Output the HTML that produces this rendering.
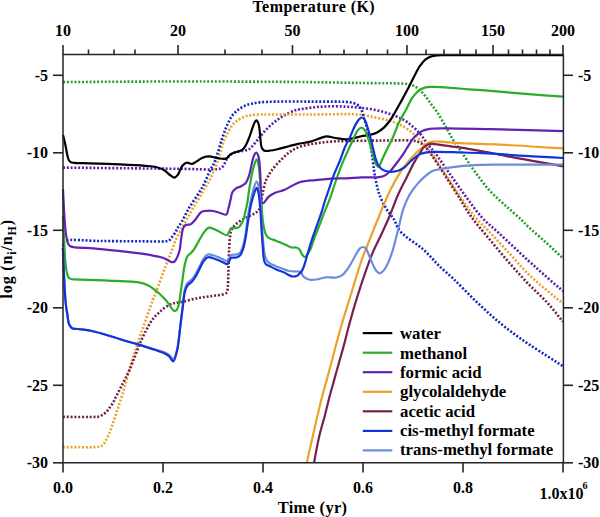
<!DOCTYPE html>
<html><head><meta charset="utf-8"><style>
html,body{margin:0;padding:0;background:#fff;width:600px;height:517px;overflow:hidden;}
svg{display:block;}
text{font-family:"Liberation Serif",serif;}
</style></head><body>
<svg width="600" height="517" viewBox="0 0 600 517"><rect width="600" height="517" fill="#fff"/><path d="M63.00,82.10 C82.00,81.97 99.39,81.80 120.00,81.70 C144.41,81.58 171.85,81.46 200.00,81.50 C231.48,81.54 270.90,81.68 300.00,82.00 C322.54,82.24 341.33,82.68 360.00,83.00 C376.35,83.28 399.03,83.13 406.00,83.80 C408.07,84.00 408.68,84.14 410.00,84.50 C411.35,84.87 412.59,85.26 414.00,86.00 C415.81,86.94 417.96,88.39 419.80,90.00 C421.84,91.79 423.73,94.08 425.60,96.40 C427.61,98.89 429.42,101.78 431.40,104.50 C433.45,107.31 435.58,109.78 437.70,113.00 C440.27,116.90 442.92,121.91 445.50,126.40 C448.09,130.91 450.52,135.74 453.20,140.00 C455.70,143.98 458.09,146.95 461.00,151.20 C464.80,156.75 469.32,164.05 474.00,170.50 C478.95,177.32 484.42,184.89 490.00,191.00 C495.12,196.61 500.73,201.16 506.00,206.00 C511.06,210.65 516.98,215.69 521.00,219.50 C523.81,222.17 525.03,223.70 528.00,226.50 C532.81,231.04 541.32,238.24 547.40,243.80 C552.92,248.84 557.80,253.53 563.00,258.40" fill="none" stroke="#26a02c" stroke-width="2.6" stroke-linejoin="round" stroke-linecap="butt" stroke-dasharray="2 1.8"/><path d="M63.00,167.60 C82.00,167.80 100.76,168.00 120.00,168.20 C139.74,168.40 162.35,168.62 180.00,168.80 C193.93,168.94 211.65,170.00 217.40,169.20 C219.17,168.95 219.78,168.81 220.80,168.20 C221.90,167.55 222.91,166.41 223.70,165.30 C224.52,164.16 224.93,162.64 225.60,161.40 C226.24,160.21 226.86,159.06 227.60,158.00 C228.33,156.96 229.09,155.91 230.00,155.10 C230.87,154.32 231.82,153.71 232.90,153.20 C234.07,152.65 235.37,152.35 236.80,152.00 C238.49,151.59 240.51,151.39 242.40,151.00 C244.37,150.59 246.74,150.44 248.40,149.60 C249.86,148.86 250.71,147.80 252.00,146.50 C253.79,144.69 255.81,142.00 257.90,139.50 C260.30,136.62 262.80,133.14 265.60,130.20 C268.46,127.20 271.70,124.20 274.90,121.70 C277.91,119.34 280.92,117.37 284.20,115.50 C287.60,113.56 292.03,111.29 295.00,110.30 C296.94,109.65 297.87,109.66 300.00,109.30 C303.74,108.67 310.32,107.70 315.50,107.20 C320.66,106.70 325.84,106.38 331.00,106.30 C336.14,106.22 341.55,106.46 346.40,106.70 C350.76,106.91 354.37,107.12 358.80,107.60 C363.96,108.16 370.07,108.86 375.50,110.00 C380.80,111.11 386.19,112.59 391.00,114.30 C395.40,115.87 399.59,117.58 403.30,119.70 C406.73,121.66 409.73,123.96 412.60,126.40 C415.42,128.80 418.22,131.67 420.40,134.20 C422.23,136.32 423.45,138.34 425.00,140.40 C426.55,142.47 428.02,144.50 429.70,146.60 C431.51,148.86 433.18,150.48 435.50,153.50 C439.51,158.72 445.83,168.27 451.00,175.60 C456.13,182.87 461.19,190.26 466.40,197.30 C471.49,204.18 476.33,211.31 481.90,217.40 C487.23,223.23 492.56,227.22 499.00,233.20 C507.41,241.01 519.26,252.30 528.00,260.30 C535.08,266.78 541.26,272.29 547.40,277.70 C552.86,282.51 557.80,286.70 563.00,291.20" fill="none" stroke="#5a1eaa" stroke-width="2.6" stroke-linejoin="round" stroke-linecap="butt" stroke-dasharray="2 1.8"/><path d="M63.00,447.10 C73.83,447.10 89.98,447.32 95.50,447.10 C97.39,447.03 98.16,447.09 99.30,446.80 C100.30,446.55 101.18,446.20 102.00,445.60 C102.90,444.94 103.68,443.92 104.40,442.90 C105.19,441.78 105.80,440.44 106.50,439.10 C107.27,437.63 108.06,436.06 108.80,434.40 C109.60,432.58 110.36,430.63 111.10,428.60 C111.90,426.41 112.64,424.01 113.40,421.70 C114.17,419.38 114.91,417.02 115.70,414.70 C116.48,412.39 117.32,410.11 118.10,407.80 C118.89,405.48 119.54,403.51 120.40,400.80 C121.59,397.08 122.99,392.66 124.50,387.50 C126.59,380.38 128.94,370.74 131.60,362.00 C134.46,352.61 137.80,342.96 141.20,333.00 C144.84,322.34 149.97,307.53 152.80,300.00 C154.29,296.04 154.97,294.72 156.40,291.00 C158.70,285.01 162.50,274.14 165.10,267.40 C167.07,262.29 168.68,258.64 170.50,254.00 C172.45,249.03 174.35,243.02 176.40,238.50 C178.08,234.80 179.80,232.01 181.60,228.70 C183.46,225.28 185.47,221.78 187.40,218.30 C189.34,214.81 191.23,211.19 193.20,207.80 C195.10,204.53 197.09,201.54 199.00,198.30 C200.96,194.98 203.02,191.16 204.80,188.10 C206.27,185.57 207.62,183.55 208.90,181.20 C210.18,178.85 211.32,176.55 212.50,174.00 C213.80,171.19 215.09,168.30 216.30,165.00 C217.71,161.14 218.94,156.44 220.30,152.20 C221.64,148.00 222.89,143.39 224.40,139.70 C225.67,136.60 227.08,133.98 228.50,131.40 C229.79,129.04 230.89,126.71 232.50,124.80 C234.05,122.96 235.90,121.44 237.90,120.10 C239.96,118.72 242.38,117.54 244.70,116.70 C246.92,115.90 249.09,115.47 251.50,115.10 C254.16,114.70 257.15,114.60 260.00,114.50 C262.88,114.40 264.72,114.50 268.70,114.50 C277.36,114.50 295.66,114.49 310.00,114.50 C325.59,114.52 346.83,113.56 358.80,114.60 C365.86,115.22 370.05,116.38 375.50,117.50 C380.78,118.59 386.20,119.60 391.00,121.20 C395.40,122.66 399.44,124.29 403.30,126.50 C407.18,128.72 410.97,131.76 414.20,134.50 C417.08,136.94 419.67,139.52 421.90,142.00 C423.86,144.18 425.24,146.41 427.00,148.50 C428.74,150.57 430.40,151.91 432.40,154.50 C435.52,158.55 439.26,165.04 443.20,171.00 C447.89,178.09 453.48,186.62 458.70,194.20 C463.81,201.62 468.82,209.49 474.20,216.00 C479.06,221.88 483.97,226.15 489.30,231.80 C495.38,238.24 502.26,245.61 508.70,252.60 C515.16,259.61 521.37,267.29 528.00,273.80 C534.29,279.97 541.24,285.60 547.40,290.80 C552.84,295.39 557.80,299.27 563.00,303.50" fill="none" stroke="#e8a22c" stroke-width="2.6" stroke-linejoin="round" stroke-linecap="butt" stroke-dasharray="2 1.8"/><path d="M63.00,416.90 C73.67,416.90 89.43,417.11 95.00,416.90 C96.97,416.83 97.75,416.94 99.00,416.60 C100.21,416.26 101.29,415.58 102.40,414.90 C103.59,414.17 104.80,413.36 105.90,412.30 C107.15,411.11 108.27,409.50 109.40,408.00 C110.57,406.44 111.76,404.83 112.80,403.10 C113.87,401.31 114.59,399.58 115.70,397.40 C117.20,394.45 119.03,390.92 121.00,387.00 C123.54,381.95 126.65,376.20 129.60,369.60 C133.34,361.22 137.30,349.14 141.20,340.60 C144.41,333.57 148.18,326.07 150.90,321.80 C152.43,319.40 153.58,318.09 155.00,316.50 C156.29,315.05 157.52,313.95 159.00,312.60 C160.73,311.03 162.80,309.11 164.80,307.70 C166.68,306.37 168.70,305.11 170.60,304.30 C172.26,303.59 173.65,303.31 175.50,302.90 C177.83,302.38 180.50,302.22 183.50,301.60 C187.45,300.79 192.55,299.10 197.10,298.20 C201.59,297.31 206.10,296.90 210.60,296.20 C215.10,295.50 221.37,294.95 224.10,294.00 C225.40,293.55 226.18,293.37 226.80,292.50 C227.64,291.33 227.56,289.20 227.80,287.00 C228.16,283.78 228.16,279.22 228.30,275.00 C228.46,270.28 228.54,264.82 228.70,260.00 C228.85,255.51 228.96,251.05 229.20,247.00 C229.41,243.45 229.61,239.97 230.00,237.00 C230.32,234.59 230.55,232.21 231.20,230.50 C231.67,229.26 232.24,228.51 233.00,227.50 C233.91,226.29 235.01,225.01 236.40,223.80 C238.11,222.30 240.55,220.67 242.70,219.40 C244.75,218.19 246.93,217.34 249.00,216.30 C251.03,215.28 253.28,214.35 255.00,213.20 C256.47,212.22 257.89,211.41 258.80,210.00 C259.82,208.43 259.95,206.27 260.50,204.00 C261.20,201.10 261.71,197.54 262.50,194.00 C263.40,189.94 264.52,184.16 265.70,181.00 C266.42,179.06 267.14,178.05 268.00,176.50 C268.95,174.79 269.86,173.11 271.20,171.20 C272.96,168.71 275.59,165.54 277.90,163.00 C280.10,160.59 282.38,158.37 284.70,156.30 C286.92,154.32 288.92,152.41 291.50,150.80 C294.35,149.02 297.58,147.49 301.20,146.30 C305.43,144.91 310.62,144.18 315.50,143.40 C320.55,142.60 325.83,142.00 331.00,141.60 C336.13,141.20 340.28,141.16 346.40,141.00 C355.44,140.77 369.02,140.67 380.00,140.60 C390.57,140.54 404.23,139.98 411.10,140.60 C414.55,140.91 416.48,140.99 418.80,142.00 C421.11,143.00 423.08,144.74 425.00,146.60 C427.11,148.64 428.58,150.85 430.80,153.90 C434.24,158.62 438.87,165.86 443.20,172.50 C448.12,180.04 453.83,189.12 458.70,196.80 C463.07,203.70 466.35,209.86 471.10,216.50 C476.40,223.91 483.11,231.47 489.30,239.00 C495.63,246.70 502.17,254.69 508.70,262.20 C515.07,269.52 521.47,276.66 528.00,283.50 C534.37,290.18 541.44,296.24 547.40,302.80 C553.05,309.02 557.80,315.47 563.00,321.80" fill="none" stroke="#6e2048" stroke-width="2.6" stroke-linejoin="round" stroke-linecap="butt" stroke-dasharray="2 1.8"/><path d="M63.00,250.00 C63.20,247.67 63.05,244.63 63.60,243.00 C63.94,242.01 63.95,241.37 65.00,240.80 C68.84,238.70 87.94,240.92 100.00,241.00 C112.89,241.09 128.10,241.26 140.00,241.30 C149.60,241.34 161.62,241.87 166.00,241.30 C167.51,241.10 168.05,241.09 169.00,240.50 C170.25,239.72 171.39,237.94 172.50,236.50 C173.67,234.98 174.85,233.18 175.80,231.60 C176.65,230.19 177.14,228.95 178.00,227.50 C179.02,225.78 180.26,224.27 181.60,222.00 C183.62,218.58 185.77,213.68 188.60,208.80 C192.31,202.42 198.43,194.25 202.30,187.20 C205.76,180.88 208.89,172.53 211.00,168.60 C212.02,166.70 212.65,166.26 213.50,164.50 C214.83,161.73 216.29,157.23 217.60,153.30 C219.03,149.01 220.35,143.81 221.70,139.70 C222.84,136.23 223.92,133.23 225.10,130.20 C226.20,127.38 227.23,124.64 228.50,122.10 C229.71,119.69 230.92,117.35 232.50,115.30 C234.06,113.29 235.89,111.47 237.90,109.90 C239.95,108.30 242.37,106.83 244.70,105.80 C246.91,104.83 249.12,104.35 251.50,103.80 C254.07,103.20 256.40,102.75 259.60,102.40 C264.18,101.90 269.84,101.76 276.40,101.60 C285.68,101.38 299.12,101.58 310.00,101.60 C320.28,101.62 333.49,101.55 340.00,101.70 C343.15,101.77 344.80,101.80 347.00,102.00 C348.98,102.18 350.84,102.33 352.60,102.80 C354.26,103.25 355.96,103.80 357.30,104.70 C358.57,105.56 359.63,106.66 360.50,108.00 C361.49,109.52 362.05,111.57 362.70,113.50 C363.39,115.56 363.80,117.59 364.50,120.00 C365.38,123.04 366.68,126.60 367.60,130.30 C368.65,134.50 369.50,139.37 370.30,143.90 C371.10,148.40 371.77,152.97 372.40,157.40 C373.00,161.67 373.41,166.05 374.00,170.00 C374.52,173.53 375.04,176.68 375.70,180.00 C376.37,183.34 377.18,187.05 378.00,190.00 C378.66,192.39 379.10,193.96 380.10,196.40 C381.54,199.90 383.94,204.89 386.30,208.80 C388.62,212.65 391.97,216.07 394.10,219.70 C396.01,222.97 396.64,226.61 398.70,229.50 C400.75,232.38 403.51,234.58 406.40,237.00 C409.63,239.70 414.01,242.30 417.30,244.80 C420.12,246.94 422.52,248.71 425.00,251.00 C427.62,253.42 430.18,256.44 432.60,259.00 C434.83,261.36 436.38,263.23 439.00,265.80 C442.76,269.48 448.02,273.69 453.30,278.70 C460.22,285.26 468.81,294.53 476.70,302.00 C484.39,309.28 492.08,316.48 500.00,323.00 C507.63,329.28 515.43,335.00 523.30,340.50 C531.00,345.88 539.60,351.11 546.70,355.70 C552.62,359.53 557.57,362.70 563.00,366.20" fill="none" stroke="#1028c0" stroke-width="2.6" stroke-linejoin="round" stroke-linecap="butt" stroke-dasharray="2 1.8"/><path d="M63.00,135.00 C63.50,137.00 64.02,138.92 64.50,141.00 C65.02,143.24 65.52,145.59 66.00,148.00 C66.52,150.57 66.91,153.73 67.50,156.00 C67.95,157.73 68.28,159.40 69.00,160.50 C69.54,161.33 70.20,161.91 71.00,162.30 C71.85,162.71 72.60,162.66 74.00,162.80 C77.22,163.12 83.84,163.09 90.00,163.30 C98.44,163.59 110.46,163.96 120.00,164.40 C128.71,164.80 138.36,165.25 145.00,165.80 C149.41,166.16 152.67,166.21 156.00,167.00 C158.93,167.70 161.63,168.62 164.00,170.00 C166.27,171.32 168.07,173.67 170.00,175.00 C171.58,176.09 173.25,177.72 174.60,177.60 C175.78,177.49 176.69,176.27 177.70,175.00 C179.32,172.97 180.54,167.93 182.40,165.80 C183.77,164.23 185.39,162.86 187.00,162.60 C188.50,162.36 190.17,164.15 191.70,164.00 C193.27,163.85 194.67,162.53 196.30,161.60 C198.23,160.49 200.27,158.57 202.50,157.70 C204.73,156.83 207.55,156.35 209.70,156.40 C211.47,156.44 212.90,157.17 214.50,157.50 C216.10,157.83 217.69,158.18 219.30,158.40 C220.92,158.62 222.79,158.93 224.20,158.80 C225.30,158.70 226.30,158.51 227.10,158.00 C227.89,157.50 228.33,156.45 229.00,155.80 C229.63,155.19 230.25,154.69 231.00,154.20 C231.83,153.65 232.71,153.14 233.80,152.70 C235.18,152.14 237.18,151.85 238.70,151.30 C240.09,150.80 241.49,150.47 242.60,149.60 C243.78,148.68 244.61,147.28 245.50,145.80 C246.57,144.01 247.54,141.54 248.40,139.50 C249.19,137.62 249.83,135.90 250.50,134.00 C251.20,132.00 251.80,129.74 252.50,127.80 C253.14,126.03 253.74,124.14 254.50,122.80 C255.08,121.78 255.77,120.26 256.40,120.30 C257.14,120.34 258.02,122.33 258.60,124.00 C259.58,126.85 259.67,132.38 260.20,136.40 C260.70,140.20 260.68,145.05 261.70,147.50 C262.29,148.92 263.04,149.93 264.00,150.50 C264.87,151.02 265.79,151.00 267.10,151.00 C269.37,151.00 273.10,150.20 276.40,149.50 C280.26,148.68 284.96,147.21 288.80,146.20 C292.12,145.33 294.84,144.50 298.10,143.80 C301.64,143.04 305.77,142.78 309.30,141.90 C312.58,141.08 315.64,139.75 318.60,138.80 C321.28,137.93 323.59,136.58 326.30,136.40 C329.23,136.21 332.38,137.53 335.60,138.00 C339.06,138.51 343.10,139.37 346.40,139.30 C349.22,139.24 351.62,138.53 354.20,138.00 C356.79,137.47 359.35,136.60 361.90,136.10 C364.38,135.61 366.83,135.59 369.30,135.00 C371.89,134.38 374.67,133.63 377.10,132.40 C379.54,131.17 381.75,129.57 383.90,127.60 C386.32,125.38 388.68,122.36 390.70,119.50 C392.71,116.66 394.29,113.46 396.00,110.50 C397.65,107.63 399.29,104.72 400.80,102.00 C402.18,99.51 403.44,97.14 404.70,94.80 C405.90,92.58 406.91,90.79 408.20,88.30 C409.91,85.00 412.03,80.45 414.00,76.70 C415.90,73.09 417.71,69.25 419.80,66.20 C421.61,63.56 423.48,60.97 425.60,59.30 C427.40,57.88 429.42,57.05 431.40,56.40 C433.29,55.78 435.12,55.61 437.20,55.40 C439.60,55.16 441.22,55.25 445.00,55.20 C455.03,55.07 481.04,55.20 500.00,55.20 C520.29,55.20 542.00,55.20 563.00,55.20" fill="none" stroke="#000000" stroke-width="2.2" stroke-linejoin="round" stroke-linecap="butt"/><path d="M63.00,216.00 C63.33,223.33 63.61,230.51 64.00,238.00 C64.41,245.83 64.74,255.55 65.40,262.00 C65.85,266.38 66.30,270.17 67.00,273.00 C67.46,274.86 67.78,276.48 68.60,277.50 C69.23,278.28 70.05,278.68 71.00,279.00 C72.13,279.38 73.02,279.27 75.00,279.40 C80.68,279.79 97.09,280.04 108.00,280.60 C118.75,281.15 133.12,281.42 140.00,282.70 C143.38,283.33 145.05,283.92 147.40,285.00 C149.79,286.10 152.07,287.74 154.20,289.30 C156.27,290.81 158.19,292.54 160.00,294.20 C161.71,295.77 163.32,297.36 164.80,299.00 C166.21,300.56 167.53,302.21 168.70,303.80 C169.78,305.27 170.69,307.03 171.60,308.20 C172.27,309.06 172.85,309.82 173.50,310.30 C173.99,310.66 174.50,311.01 175.00,311.00 C175.50,310.99 176.08,310.60 176.50,310.20 C176.97,309.74 177.25,309.15 177.60,308.30 C178.21,306.84 178.85,304.24 179.30,302.00 C179.81,299.51 179.98,296.93 180.40,294.00 C180.92,290.40 181.54,286.40 182.20,282.00 C183.01,276.61 183.75,268.76 184.90,264.00 C185.68,260.76 186.42,257.82 187.60,256.00 C188.38,254.80 189.41,254.36 190.30,253.50 C191.21,252.63 192.08,251.97 193.00,250.80 C194.32,249.12 195.58,246.64 197.10,244.10 C199.08,240.79 201.54,235.54 203.80,232.60 C205.45,230.46 206.72,228.06 208.80,227.60 C211.19,227.07 214.65,229.57 217.60,230.80 C220.71,232.09 225.16,235.76 227.00,235.20 C228.10,234.86 228.22,233.12 228.90,232.00 C229.67,230.74 230.26,228.59 231.40,228.00 C232.42,227.47 233.95,228.33 235.20,228.20 C236.45,228.07 237.79,228.01 238.90,227.20 C240.40,226.10 241.68,223.55 242.70,221.30 C243.86,218.73 244.44,215.50 245.20,212.50 C245.98,209.41 246.67,206.50 247.30,203.00 C248.07,198.73 248.44,193.86 249.30,188.70 C250.32,182.56 251.71,173.98 253.20,168.60 C254.24,164.86 255.64,159.28 256.60,159.30 C257.38,159.31 258.03,162.60 258.60,165.50 C259.85,171.83 260.24,186.58 261.00,196.40 C261.70,205.33 261.98,215.11 263.00,222.00 C263.70,226.75 264.28,231.11 265.60,233.90 C266.45,235.68 267.25,236.72 268.70,237.80 C270.57,239.20 273.72,239.80 276.40,240.90 C279.36,242.12 282.97,243.59 285.70,244.80 C287.87,245.76 289.62,247.08 291.50,247.50 C293.11,247.86 294.84,247.13 296.20,247.50 C297.39,247.82 298.38,248.36 299.30,249.30 C300.53,250.54 301.31,253.40 302.40,254.80 C303.20,255.84 304.11,257.22 304.90,257.20 C305.64,257.18 306.28,255.93 307.00,255.00 C308.00,253.71 309.09,252.10 310.10,250.00 C311.61,246.87 312.95,241.81 314.50,237.70 C316.08,233.51 317.88,229.30 319.50,225.10 C321.11,220.93 322.54,216.80 324.20,212.60 C325.91,208.27 327.80,204.30 329.60,199.50 C331.74,193.79 333.88,186.54 336.00,180.50 C337.95,174.95 339.63,169.97 341.80,164.60 C344.10,158.92 347.09,152.64 349.50,147.30 C351.58,142.68 353.76,137.54 355.40,134.40 C356.38,132.52 356.92,131.16 358.00,130.00 C358.99,128.94 360.36,127.56 361.50,127.60 C362.66,127.64 363.88,128.90 364.90,130.30 C366.57,132.59 367.71,137.35 369.00,141.20 C370.42,145.44 371.69,150.51 373.00,154.70 C374.15,158.37 375.11,163.02 376.40,165.00 C377.06,166.01 377.78,167.04 378.50,166.90 C379.78,166.66 381.08,161.73 382.50,158.80 C384.18,155.35 386.24,150.87 387.90,147.50 C389.26,144.74 390.48,142.64 391.70,140.00 C393.02,137.16 394.27,133.98 395.50,131.00 C396.70,128.08 397.51,125.40 399.00,122.30 C400.82,118.50 403.73,114.03 405.90,110.00 C407.95,106.17 409.72,101.77 411.70,98.70 C413.21,96.36 414.79,94.44 416.30,92.90 C417.48,91.69 418.42,90.86 419.80,90.00 C421.43,88.98 423.62,87.91 425.60,87.40 C427.49,86.91 429.06,86.96 431.40,86.90 C434.98,86.81 439.84,87.10 445.00,87.40 C451.81,87.80 461.01,88.72 468.70,89.30 C475.99,89.85 483.02,90.22 490.00,90.80 C496.78,91.36 501.74,92.00 510.00,92.70 C523.44,93.85 545.33,95.37 563.00,96.70" fill="none" stroke="#2aae2a" stroke-width="2.2" stroke-linejoin="round" stroke-linecap="butt"/><path d="M63.00,189.30 C63.40,197.20 63.71,205.44 64.20,213.00 C64.65,219.95 65.18,228.05 65.80,233.00 C66.17,235.94 66.51,238.01 67.00,240.00 C67.38,241.53 67.71,242.94 68.30,244.00 C68.77,244.84 69.26,245.48 70.00,246.00 C70.86,246.60 71.70,246.87 73.30,247.20 C77.12,247.98 86.27,247.76 93.30,248.30 C101.18,248.91 109.97,249.88 118.30,250.80 C126.64,251.72 135.82,252.64 143.30,253.80 C149.44,254.76 156.06,255.97 160.00,257.00 C162.21,257.58 163.54,258.03 165.10,258.70 C166.52,259.31 167.79,260.18 169.00,260.80 C170.03,261.33 170.94,262.11 171.90,262.20 C172.77,262.28 173.75,262.05 174.50,261.50 C175.44,260.82 176.08,259.42 176.80,258.00 C177.78,256.07 178.82,253.48 179.50,250.80 C180.31,247.60 180.47,243.53 181.00,240.00 C181.51,236.60 181.85,232.51 182.60,230.00 C183.08,228.39 183.57,227.07 184.30,226.20 C184.84,225.55 185.50,225.15 186.20,224.90 C186.90,224.65 187.73,224.83 188.50,224.70 C189.30,224.57 190.05,224.59 190.90,224.10 C192.29,223.30 193.93,221.19 195.50,219.40 C197.38,217.26 199.09,213.37 201.30,212.00 C203.06,210.91 205.15,210.97 207.10,210.80 C209.05,210.63 211.13,210.73 213.00,211.00 C214.75,211.25 216.13,211.80 218.00,212.30 C220.42,212.95 224.61,215.48 226.30,214.60 C227.71,213.87 227.67,211.11 228.30,209.00 C229.09,206.37 229.78,202.91 230.50,200.00 C231.18,197.25 231.30,194.08 232.50,192.00 C233.50,190.26 235.12,188.95 236.60,188.00 C237.91,187.16 239.40,187.12 240.80,186.40 C242.37,185.60 244.30,184.64 245.50,183.30 C246.68,181.99 247.32,180.10 248.00,178.50 C248.64,177.00 249.02,175.73 249.50,174.00 C250.13,171.73 250.72,168.58 251.30,166.00 C251.85,163.59 252.30,161.06 252.90,159.00 C253.39,157.32 253.80,155.65 254.50,154.50 C255.03,153.63 255.81,152.44 256.40,152.50 C257.06,152.57 257.74,154.30 258.20,155.50 C258.79,157.02 258.99,158.77 259.30,161.00 C259.77,164.40 260.03,169.20 260.30,174.00 C260.63,179.95 260.69,188.74 261.00,194.00 C261.20,197.43 260.90,201.27 261.70,202.50 C262.03,203.01 262.56,203.22 263.00,203.20 C263.46,203.18 263.86,202.80 264.40,202.30 C265.48,201.30 266.79,198.44 268.50,196.90 C270.34,195.24 272.69,193.94 275.20,192.80 C278.02,191.51 281.85,191.01 284.70,189.80 C287.21,188.73 289.12,187.32 291.50,186.10 C294.07,184.78 297.00,183.05 299.60,182.20 C301.81,181.48 303.65,181.33 306.00,181.00 C308.85,180.60 311.95,180.44 315.50,180.10 C320.04,179.67 325.84,178.90 331.00,178.60 C336.14,178.30 341.26,178.52 346.40,178.30 C351.56,178.08 356.90,177.44 361.90,177.30 C366.58,177.17 371.62,177.66 375.50,177.40 C378.44,177.20 380.87,177.22 383.20,176.30 C385.50,175.40 387.45,173.79 389.40,172.00 C391.62,169.96 393.56,167.09 395.60,164.50 C397.70,161.83 399.93,158.90 401.80,156.20 C403.50,153.75 404.65,151.68 406.40,149.00 C408.64,145.56 411.35,140.42 414.20,137.30 C416.59,134.68 419.18,132.53 421.90,131.10 C424.37,129.81 426.61,129.30 429.70,128.80 C434.01,128.11 438.90,128.34 445.50,128.30 C456.58,128.24 473.34,128.81 490.00,129.20 C511.34,129.69 538.67,130.47 563.00,131.10" fill="none" stroke="#6222b4" stroke-width="2.2" stroke-linejoin="round" stroke-linecap="butt"/><path d="M306.70,463.00 C308.87,453.43 311.18,443.16 313.20,434.30 C314.94,426.64 316.43,419.88 318.10,412.90 C319.70,406.19 321.48,398.89 323.00,393.20 C324.17,388.81 325.12,385.87 326.30,381.60 C327.75,376.35 329.18,370.82 331.00,364.00 C333.54,354.52 337.40,339.55 340.10,330.00 C342.08,323.01 343.62,318.09 345.50,311.90 C347.48,305.37 349.63,298.50 351.70,291.80 C353.77,285.10 355.96,277.79 357.90,271.70 C359.52,266.60 361.03,261.80 362.50,257.70 C363.67,254.44 364.75,251.86 365.90,249.00 C367.02,246.20 368.09,243.72 369.30,240.70 C370.73,237.12 372.34,232.79 373.90,228.90 C375.44,225.06 377.05,221.31 378.60,217.50 C380.15,213.68 381.41,210.20 383.20,206.00 C385.41,200.80 388.29,194.10 391.00,188.70 C393.48,183.76 396.01,179.08 398.70,174.80 C401.16,170.87 403.73,167.28 406.40,163.90 C408.91,160.71 411.53,157.72 414.20,155.00 C416.70,152.45 419.50,150.12 421.90,148.00 C423.96,146.18 425.55,144.06 427.70,143.00 C429.71,142.00 432.17,141.82 434.30,141.60 C436.26,141.39 437.50,141.51 440.00,141.60 C444.80,141.78 452.92,142.75 461.00,143.20 C472.00,143.82 485.45,143.90 500.00,144.60 C518.50,145.49 542.00,147.13 563.00,148.40" fill="none" stroke="#eca226" stroke-width="2.2" stroke-linejoin="round" stroke-linecap="butt"/><path d="M314.00,463.00 C314.93,458.00 315.83,452.88 316.80,448.00 C317.73,443.32 318.71,438.41 319.70,434.30 C320.52,430.89 321.36,428.05 322.20,425.00 C323.02,422.02 323.89,419.25 324.70,416.20 C325.56,412.93 326.37,409.35 327.20,406.00 C328.00,402.75 328.67,399.94 329.60,396.40 C330.76,391.99 332.43,386.18 333.70,381.60 C334.80,377.63 335.53,375.06 336.80,370.50 C338.85,363.18 342.81,349.39 344.80,341.90 C346.08,337.09 346.63,334.45 347.80,330.00 C349.31,324.27 351.29,316.97 353.20,310.40 C355.15,303.70 357.29,296.77 359.40,290.20 C361.43,283.88 363.50,277.73 365.60,271.70 C367.63,265.88 369.89,259.30 371.80,254.60 C373.18,251.21 374.34,248.89 375.70,246.00 C377.10,243.02 378.45,240.48 380.10,237.00 C382.36,232.24 385.92,224.54 387.90,220.00 C389.20,217.01 389.75,215.58 391.00,212.50 C393.00,207.58 396.00,199.30 398.70,193.30 C401.16,187.83 403.82,183.04 406.40,177.90 C408.99,172.74 411.70,166.88 414.20,162.40 C416.20,158.83 418.14,155.82 420.00,153.00 C421.58,150.61 422.69,148.03 424.60,146.50 C426.35,145.10 428.47,144.25 430.80,143.90 C433.54,143.48 436.52,144.38 440.10,144.80 C445.00,145.38 451.18,146.25 457.50,147.20 C465.09,148.35 474.18,149.79 482.50,151.30 C490.85,152.82 499.16,154.72 507.50,156.30 C515.83,157.88 523.75,159.22 532.50,160.80 C542.16,162.54 552.83,164.47 563.00,166.30" fill="none" stroke="#76224e" stroke-width="2.2" stroke-linejoin="round" stroke-linecap="butt"/><path d="M63.00,248.40 C63.47,259.93 63.86,272.90 64.40,283.00 C64.82,290.87 65.15,297.98 65.80,304.00 C66.29,308.57 67.07,312.54 67.60,316.00 C68.01,318.65 68.05,321.04 68.70,323.00 C69.22,324.57 70.03,326.06 70.80,327.00 C71.33,327.66 71.63,328.04 72.50,328.40 C74.29,329.14 78.55,328.89 81.70,329.30 C85.04,329.74 88.51,330.25 92.00,331.00 C95.70,331.79 99.51,332.93 103.30,334.00 C107.17,335.09 111.26,336.32 115.00,337.50 C118.47,338.59 121.43,339.72 125.00,340.80 C129.04,342.02 133.68,343.14 138.00,344.40 C142.34,345.67 147.06,347.22 151.00,348.40 C154.27,349.38 157.29,350.13 160.00,351.00 C162.27,351.73 164.49,352.37 166.20,353.20 C167.51,353.84 168.43,354.40 169.50,355.30 C170.77,356.36 172.09,359.50 173.20,359.30 C174.74,359.02 176.06,353.54 177.10,349.60 C178.60,343.95 179.15,334.83 180.00,328.30 C180.72,322.75 181.36,317.18 181.90,312.90 C182.28,309.83 182.51,308.09 182.90,305.00 C183.45,300.60 183.78,292.99 184.90,289.00 C185.62,286.45 186.38,284.63 187.60,283.00 C188.70,281.53 190.42,280.89 191.70,279.50 C193.14,277.94 194.43,276.06 195.70,274.00 C197.16,271.63 198.43,268.62 199.80,266.00 C201.13,263.45 202.28,260.52 203.80,258.50 C205.04,256.84 206.29,255.02 207.90,254.50 C209.47,253.99 211.43,254.80 213.30,255.30 C215.47,255.88 217.78,257.07 220.10,258.00 C222.54,258.97 226.04,261.56 227.60,261.00 C228.70,260.60 228.82,258.55 229.50,257.50 C230.10,256.57 230.46,255.52 231.40,255.00 C232.58,254.34 234.89,254.95 236.40,254.50 C237.80,254.08 239.19,253.57 240.20,252.50 C241.40,251.23 241.96,249.19 242.70,247.00 C243.71,244.00 244.44,240.13 245.20,236.00 C246.16,230.75 246.75,223.99 247.70,218.00 C248.65,211.99 249.86,205.11 250.90,200.00 C251.68,196.17 252.20,193.14 253.20,190.00 C254.13,187.06 255.62,181.71 256.60,181.70 C257.31,181.69 257.98,184.11 258.50,186.00 C259.40,189.28 259.70,194.65 260.20,200.00 C260.86,207.13 261.24,217.33 261.80,225.00 C262.28,231.55 262.71,237.67 263.30,243.20 C263.80,247.85 264.09,252.77 265.00,256.00 C265.59,258.10 266.25,259.69 267.20,261.00 C267.99,262.08 268.80,262.72 270.00,263.50 C271.64,264.57 273.90,265.37 276.40,266.40 C279.84,267.81 284.95,270.20 288.80,271.00 C291.96,271.66 295.50,271.26 297.70,271.50 C299.00,271.64 299.94,271.40 300.80,272.00 C301.87,272.74 302.04,275.00 303.20,276.20 C304.53,277.57 306.55,278.92 308.60,279.50 C310.86,280.14 313.63,279.81 316.30,279.50 C319.27,279.15 322.36,277.65 325.60,277.30 C329.04,276.93 333.35,278.08 336.40,277.50 C338.81,277.04 340.70,276.33 342.60,274.90 C344.91,273.16 346.84,270.08 348.80,267.20 C351.00,263.96 353.05,259.60 355.00,256.30 C356.65,253.50 358.07,250.11 359.70,248.60 C360.71,247.66 361.77,247.00 362.80,247.00 C363.83,247.00 365.02,247.68 365.90,248.60 C367.12,249.87 367.68,252.29 368.70,254.60 C370.07,257.68 371.81,262.52 373.30,265.50 C374.39,267.69 375.31,269.62 376.50,271.00 C377.43,272.07 378.42,273.34 379.50,273.40 C380.65,273.47 382.03,272.29 383.20,271.10 C384.89,269.38 386.47,266.27 387.90,263.30 C389.62,259.73 391.20,255.01 392.50,251.00 C393.71,247.26 394.50,243.80 395.50,240.00 C396.57,235.95 397.54,232.01 398.70,227.40 C400.10,221.80 401.35,214.47 403.30,208.80 C405.04,203.75 407.07,199.13 409.50,194.90 C411.78,190.94 414.58,187.32 417.30,184.10 C419.77,181.18 422.36,178.55 425.00,176.30 C427.41,174.25 429.55,172.27 432.40,171.00 C435.54,169.60 439.26,169.33 443.20,168.60 C447.89,167.73 453.00,166.91 458.70,166.30 C465.64,165.56 474.64,165.07 481.90,164.80 C488.30,164.56 492.14,164.64 500.00,164.60 C514.66,164.53 542.00,164.67 563.00,164.70" fill="none" stroke="#6c8cdc" stroke-width="2.2" stroke-linejoin="round" stroke-linecap="butt"/><path d="M63.00,248.40 C63.47,259.93 63.86,272.90 64.40,283.00 C64.82,290.87 65.15,297.98 65.80,304.00 C66.29,308.57 67.07,312.54 67.60,316.00 C68.01,318.65 68.05,321.04 68.70,323.00 C69.22,324.57 70.03,326.06 70.80,327.00 C71.33,327.66 71.63,328.04 72.50,328.40 C74.29,329.14 78.55,328.89 81.70,329.30 C85.04,329.74 88.51,330.25 92.00,331.00 C95.70,331.79 99.51,332.93 103.30,334.00 C107.17,335.09 111.26,336.32 115.00,337.50 C118.47,338.59 121.43,339.72 125.00,340.80 C129.04,342.02 133.68,343.10 138.00,344.40 C142.35,345.70 147.07,347.31 151.00,348.60 C154.28,349.68 157.30,350.58 160.00,351.60 C162.28,352.46 164.51,353.21 166.20,354.20 C167.54,354.99 168.42,355.75 169.50,356.80 C170.77,358.04 172.09,361.49 173.20,361.30 C174.75,361.04 176.05,354.84 177.10,350.60 C178.54,344.77 179.15,335.83 180.00,329.30 C180.72,323.75 181.36,318.18 181.90,313.90 C182.28,310.83 182.50,309.03 182.90,306.00 C183.44,301.87 183.83,295.16 184.90,291.40 C185.62,288.87 186.36,286.91 187.60,285.30 C188.70,283.87 190.42,283.34 191.70,282.00 C193.15,280.48 194.44,278.57 195.70,276.50 C197.16,274.11 198.42,271.03 199.80,268.40 C201.12,265.87 202.27,262.94 203.80,261.00 C205.04,259.42 206.31,257.75 207.90,257.30 C209.48,256.85 211.42,257.76 213.30,258.30 C215.47,258.92 217.78,260.07 220.10,261.00 C222.54,261.97 226.04,264.58 227.60,264.00 C228.72,263.58 228.82,261.39 229.50,260.30 C230.09,259.36 230.46,258.30 231.40,257.80 C232.58,257.17 234.90,257.95 236.40,257.50 C237.81,257.08 239.18,256.39 240.20,255.30 C241.36,254.06 241.96,252.23 242.70,250.20 C243.70,247.47 244.44,243.96 245.20,240.20 C246.16,235.43 246.79,229.45 247.70,223.80 C248.68,217.74 249.80,210.04 250.90,205.00 C251.65,201.56 252.26,199.23 253.20,196.40 C254.15,193.53 255.64,187.89 256.60,187.90 C257.34,187.91 257.99,190.91 258.50,193.00 C259.27,196.12 259.57,200.48 260.00,205.00 C260.55,210.81 260.87,218.49 261.30,225.00 C261.71,231.21 262.03,237.21 262.50,243.20 C262.96,249.04 263.09,256.81 264.10,260.50 C264.61,262.36 265.11,263.63 266.00,264.50 C266.73,265.21 267.58,265.17 268.70,265.70 C270.62,266.60 273.80,268.34 276.40,269.50 C278.97,270.64 281.63,271.47 284.20,272.60 C286.79,273.74 289.60,275.85 291.90,276.30 C293.61,276.63 295.31,276.50 296.60,276.00 C297.71,275.57 298.47,274.57 299.30,273.80 C300.10,273.07 300.84,272.43 301.50,271.50 C302.28,270.40 302.84,269.13 303.50,267.50 C304.45,265.13 305.43,261.44 306.30,258.50 C307.13,255.71 307.70,253.32 308.60,250.30 C309.72,246.54 311.20,241.89 312.60,237.70 C314.00,233.49 315.53,229.29 317.00,225.10 C318.46,220.92 320.03,216.79 321.40,212.60 C322.76,208.42 323.94,203.89 325.20,200.00 C326.30,196.60 327.26,194.08 328.50,190.50 C330.10,185.86 332.01,179.67 334.00,174.50 C335.92,169.51 338.33,164.70 340.20,160.00 C341.93,155.65 343.18,151.26 344.90,147.30 C346.47,143.67 348.32,140.67 350.00,137.10 C351.82,133.24 353.58,128.20 355.40,124.90 C356.75,122.45 358.11,120.01 359.50,118.80 C360.39,118.03 361.35,117.36 362.20,117.50 C363.16,117.66 364.11,118.96 364.90,120.20 C366.03,121.97 366.75,124.96 367.60,127.60 C368.56,130.55 369.43,133.82 370.30,137.10 C371.23,140.58 372.10,144.29 373.00,147.90 C373.90,151.52 374.66,155.63 375.70,158.80 C376.54,161.37 377.25,163.73 378.50,165.60 C379.59,167.24 380.94,168.62 382.50,169.60 C384.07,170.59 386.06,171.15 387.90,171.50 C389.70,171.84 391.59,171.87 393.40,171.70 C395.19,171.53 396.92,171.19 398.70,170.50 C400.74,169.71 402.93,168.50 404.90,167.00 C407.09,165.34 408.86,162.81 411.10,160.80 C413.47,158.67 416.08,156.03 418.80,154.60 C421.27,153.31 423.89,152.77 426.60,152.30 C429.44,151.81 431.80,151.86 435.50,151.80 C441.64,151.70 452.01,152.16 460.00,152.40 C467.66,152.63 473.53,152.76 482.50,153.20 C495.89,153.85 517.88,155.44 532.50,156.30 C543.92,156.97 552.83,157.43 563.00,158.00" fill="none" stroke="#1434d8" stroke-width="2.2" stroke-linejoin="round" stroke-linecap="butt"/><path d="M62.25,54.5 H563.75 M62.25,462.8 H563.75 M63,54.5 V462.8 M563.4,54.5 V462.8" fill="none" stroke="#262626" stroke-width="1.5"/><line x1="53" y1="75.3" x2="63" y2="75.3" stroke="#262626" stroke-width="1.6"/><line x1="563" y1="75.3" x2="573" y2="75.3" stroke="#262626" stroke-width="1.6"/><line x1="53" y1="152.8" x2="63" y2="152.8" stroke="#262626" stroke-width="1.6"/><line x1="563" y1="152.8" x2="573" y2="152.8" stroke="#262626" stroke-width="1.6"/><line x1="53" y1="230.3" x2="63" y2="230.3" stroke="#262626" stroke-width="1.6"/><line x1="563" y1="230.3" x2="573" y2="230.3" stroke="#262626" stroke-width="1.6"/><line x1="53" y1="307.8" x2="63" y2="307.8" stroke="#262626" stroke-width="1.6"/><line x1="563" y1="307.8" x2="573" y2="307.8" stroke="#262626" stroke-width="1.6"/><line x1="53" y1="385.3" x2="63" y2="385.3" stroke="#262626" stroke-width="1.6"/><line x1="563" y1="385.3" x2="573" y2="385.3" stroke="#262626" stroke-width="1.6"/><line x1="53" y1="462.8" x2="63" y2="462.8" stroke="#262626" stroke-width="1.6"/><line x1="563" y1="462.8" x2="573" y2="462.8" stroke="#262626" stroke-width="1.6"/><line x1="63" y1="462.8" x2="63" y2="472.5" stroke="#262626" stroke-width="1.6"/><line x1="163" y1="462.8" x2="163" y2="472.5" stroke="#262626" stroke-width="1.6"/><line x1="263" y1="462.8" x2="263" y2="472.5" stroke="#262626" stroke-width="1.6"/><line x1="363" y1="462.8" x2="363" y2="472.5" stroke="#262626" stroke-width="1.6"/><line x1="463" y1="462.8" x2="463" y2="472.5" stroke="#262626" stroke-width="1.6"/><line x1="563" y1="462.8" x2="563" y2="472.5" stroke="#262626" stroke-width="1.6"/><line x1="63" y1="45" x2="63" y2="54.5" stroke="#262626" stroke-width="1.6"/><line x1="178" y1="45" x2="178" y2="54.5" stroke="#262626" stroke-width="1.6"/><line x1="292.5" y1="45" x2="292.5" y2="54.5" stroke="#262626" stroke-width="1.6"/><line x1="407" y1="45" x2="407" y2="54.5" stroke="#262626" stroke-width="1.6"/><line x1="493" y1="45" x2="493" y2="54.5" stroke="#262626" stroke-width="1.6"/><line x1="563" y1="45" x2="563" y2="54.5" stroke="#262626" stroke-width="1.6"/><line x1="88.5" y1="49.5" x2="88.5" y2="54.5" stroke="#262626" stroke-width="1.6"/><line x1="114" y1="49.5" x2="114" y2="54.5" stroke="#262626" stroke-width="1.6"/><line x1="135" y1="49.5" x2="135" y2="54.5" stroke="#262626" stroke-width="1.6"/><line x1="225" y1="49.5" x2="225" y2="54.5" stroke="#262626" stroke-width="1.6"/><line x1="262" y1="49.5" x2="262" y2="54.5" stroke="#262626" stroke-width="1.6"/><line x1="320" y1="49.5" x2="320" y2="54.5" stroke="#262626" stroke-width="1.6"/><line x1="344" y1="49.5" x2="344" y2="54.5" stroke="#262626" stroke-width="1.6"/><line x1="367" y1="49.5" x2="367" y2="54.5" stroke="#262626" stroke-width="1.6"/><line x1="387.5" y1="49.5" x2="387.5" y2="54.5" stroke="#262626" stroke-width="1.6"/><line x1="426" y1="49.5" x2="426" y2="54.5" stroke="#262626" stroke-width="1.6"/><line x1="444" y1="49.5" x2="444" y2="54.5" stroke="#262626" stroke-width="1.6"/><line x1="460" y1="49.5" x2="460" y2="54.5" stroke="#262626" stroke-width="1.6"/><line x1="476" y1="49.5" x2="476" y2="54.5" stroke="#262626" stroke-width="1.6"/><line x1="508.5" y1="49.5" x2="508.5" y2="54.5" stroke="#262626" stroke-width="1.6"/><line x1="522.5" y1="49.5" x2="522.5" y2="54.5" stroke="#262626" stroke-width="1.6"/><line x1="536.5" y1="49.5" x2="536.5" y2="54.5" stroke="#262626" stroke-width="1.6"/><line x1="550" y1="49.5" x2="550" y2="54.5" stroke="#262626" stroke-width="1.6"/><text x="48" y="80.8" font-family="Liberation Serif" font-weight="bold" font-size="16" text-anchor="end">-5</text><text x="578" y="80.8" font-family="Liberation Serif" font-weight="bold" font-size="16" text-anchor="start">-5</text><text x="48" y="158.3" font-family="Liberation Serif" font-weight="bold" font-size="16" text-anchor="end">-10</text><text x="578" y="158.3" font-family="Liberation Serif" font-weight="bold" font-size="16" text-anchor="start">-10</text><text x="48" y="235.8" font-family="Liberation Serif" font-weight="bold" font-size="16" text-anchor="end">-15</text><text x="578" y="235.8" font-family="Liberation Serif" font-weight="bold" font-size="16" text-anchor="start">-15</text><text x="48" y="313.3" font-family="Liberation Serif" font-weight="bold" font-size="16" text-anchor="end">-20</text><text x="578" y="313.3" font-family="Liberation Serif" font-weight="bold" font-size="16" text-anchor="start">-20</text><text x="48" y="390.8" font-family="Liberation Serif" font-weight="bold" font-size="16" text-anchor="end">-25</text><text x="578" y="390.8" font-family="Liberation Serif" font-weight="bold" font-size="16" text-anchor="start">-25</text><text x="48" y="468.3" font-family="Liberation Serif" font-weight="bold" font-size="16" text-anchor="end">-30</text><text x="578" y="468.3" font-family="Liberation Serif" font-weight="bold" font-size="16" text-anchor="start">-30</text><text x="63" y="492.5" font-family="Liberation Serif" font-weight="bold" font-size="16" text-anchor="middle">0.0</text><text x="163" y="492.5" font-family="Liberation Serif" font-weight="bold" font-size="16" text-anchor="middle">0.2</text><text x="263" y="492.5" font-family="Liberation Serif" font-weight="bold" font-size="16" text-anchor="middle">0.4</text><text x="363" y="492.5" font-family="Liberation Serif" font-weight="bold" font-size="16" text-anchor="middle">0.6</text><text x="463" y="492.5" font-family="Liberation Serif" font-weight="bold" font-size="16" text-anchor="middle">0.8</text><text x="539.5" y="499" font-family="Liberation Serif" font-weight="bold" font-size="16">1.0x10</text><text x="582.5" y="488.5" font-family="Liberation Serif" font-weight="bold" font-size="10">6</text><text x="312.5" y="512.5" font-family="Liberation Serif" font-weight="bold" font-size="16.5" letter-spacing="0.3" text-anchor="middle">Time (yr)</text><text x="63" y="35.7" font-family="Liberation Serif" font-weight="bold" font-size="16" text-anchor="middle">10</text><text x="178" y="35.7" font-family="Liberation Serif" font-weight="bold" font-size="16" text-anchor="middle">20</text><text x="292.5" y="35.7" font-family="Liberation Serif" font-weight="bold" font-size="16" text-anchor="middle">50</text><text x="407" y="35.7" font-family="Liberation Serif" font-weight="bold" font-size="16" text-anchor="middle">100</text><text x="493" y="35.7" font-family="Liberation Serif" font-weight="bold" font-size="16" text-anchor="middle">150</text><text x="563" y="35.7" font-family="Liberation Serif" font-weight="bold" font-size="16" text-anchor="middle">200</text><text x="313.8" y="11.8" font-family="Liberation Serif" font-weight="bold" font-size="16" letter-spacing="0.45" text-anchor="middle">Temperature (K)</text><g transform="translate(11.9,298.5) rotate(-90)"><text x="0" y="0" font-family="Liberation Serif" font-weight="bold" font-size="16" letter-spacing="0.85">log (n<tspan font-size="12" dy="4">i</tspan><tspan dy="-4">/n</tspan><tspan font-size="12" dy="4">H</tspan><tspan dy="-4">)</tspan></text></g><line x1="362.8" y1="333.1" x2="392.3" y2="333.1" stroke="#000000" stroke-width="2.2"/><text x="400" y="339.1" font-family="Liberation Serif" font-weight="bold" font-size="16.8">water</text><line x1="362.8" y1="352.7" x2="392.3" y2="352.7" stroke="#2aae2a" stroke-width="2.2"/><text x="400" y="358.5" font-family="Liberation Serif" font-weight="bold" font-size="16.8">methanol</text><line x1="362.8" y1="372.2" x2="392.3" y2="372.2" stroke="#6222b4" stroke-width="2.2"/><text x="400" y="377.8" font-family="Liberation Serif" font-weight="bold" font-size="16.8">formic acid</text><line x1="362.8" y1="391.8" x2="392.3" y2="391.8" stroke="#eca226" stroke-width="2.2"/><text x="400" y="397.2" font-family="Liberation Serif" font-weight="bold" font-size="16.8">glycolaldehyde</text><line x1="362.8" y1="411.3" x2="392.3" y2="411.3" stroke="#76224e" stroke-width="2.2"/><text x="400" y="416.5" font-family="Liberation Serif" font-weight="bold" font-size="16.8">acetic acid</text><line x1="362.8" y1="430.9" x2="392.3" y2="430.9" stroke="#1434d8" stroke-width="2.2"/><text x="400" y="435.9" font-family="Liberation Serif" font-weight="bold" font-size="16.8">cis-methyl formate</text><line x1="362.8" y1="450.4" x2="392.3" y2="450.4" stroke="#6c8cdc" stroke-width="2.2"/><text x="400" y="455.2" font-family="Liberation Serif" font-weight="bold" font-size="16.8">trans-methyl formate</text></svg>
</body></html>
